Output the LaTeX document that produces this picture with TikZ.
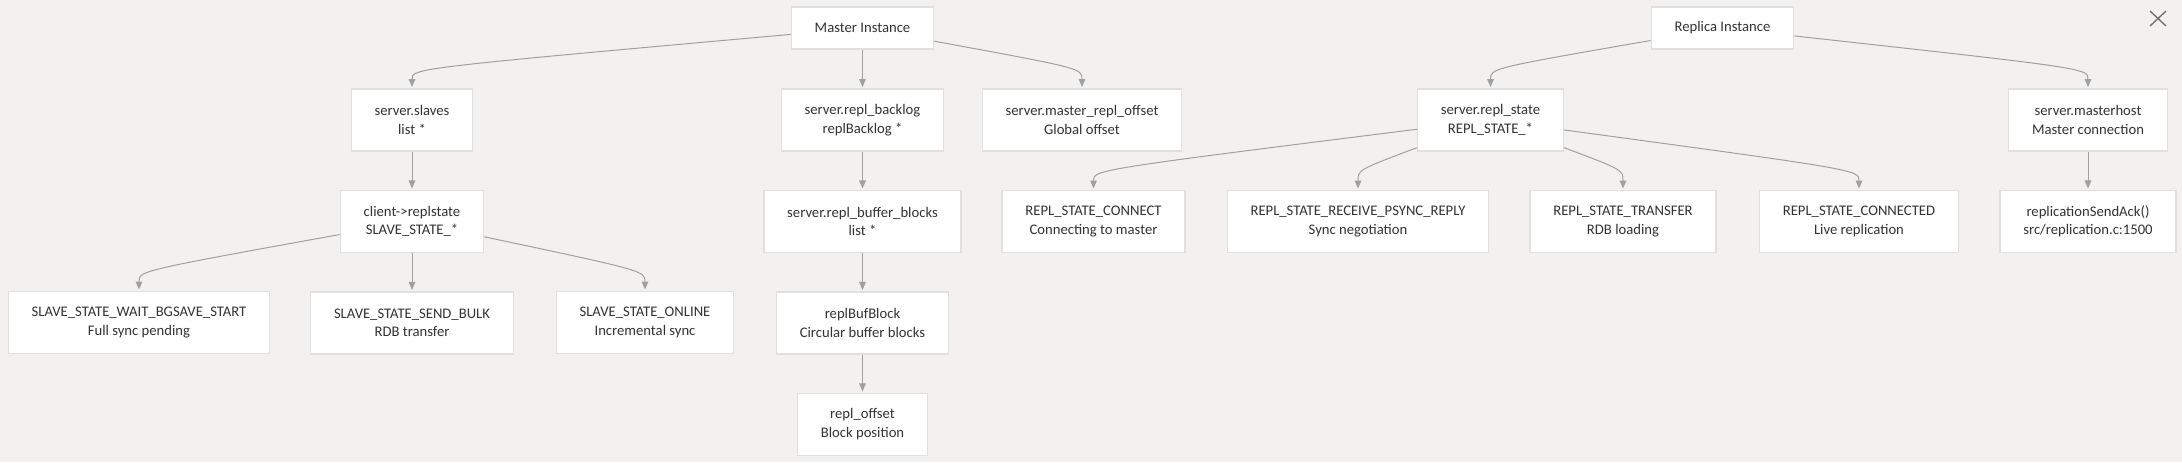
\documentclass[tikz,border=0pt]{standalone}
\usepackage{fontspec}
\setmainfont{Carlito}
\usetikzlibrary{arrows.meta,calc}

\definecolor{canvas}{RGB}{242,241,239}
\definecolor{boxline}{RGB}{224,224,224}
\definecolor{wire}{RGB}{160,160,160}
\definecolor{ink}{RGB}{51,51,51}
\definecolor{closegray}{RGB}{110,110,110}

\begin{document}
\begin{tikzpicture}[x=0.75pt,y=0.75pt,node distance=76.1pt,
    box/.style={draw=boxline,line width=1pt,fill=white,text=ink,align=center,
      font=\fontsize{11}{14}\selectfont,inner xsep=17.5pt,minimum height=46.5pt},
    top/.style={box,minimum height=31.5pt},
    link/.style={color=wire,line width=0.75pt,shorten >=1pt,
      -{Triangle[length=6pt,width=5pt]}},
    drop/.style={to path={.. controls ($(\tikztotarget.north)+(0,20)$) .. (\tikztotarget)}},
    closemark/.style={draw=closegray,line width=1pt}]

  \fill[canvas] (0,0) rectangle (2182,-462);

  % master side
  \node[top] (master)   at (862.5,-28)  {Master Instance};
  \node[box] (slaves)   at (412,-120)   {server.slaves\\list *};
  \node[box] (backlog)  at (862.5,-120) {server.repl\_backlog\\replBacklog *};
  \node[box] (mroffset) at (1082,-120)  {server.master\_repl\_offset\\Global offset};
  \node[box] (client)    [below of=slaves]  {client->replstate\\SLAVE\_STATE\_*};
  \node[box] (bufblocks) [below of=backlog] {server.repl\_buffer\_blocks\\list *};
  \node[box] (bgsave)   at (139,-322.5) {SLAVE\_STATE\_WAIT\_BGSAVE\_START\\Full sync pending};
  \node[box] (sendbulk) [below of=client] {SLAVE\_STATE\_SEND\_BULK\\RDB transfer};
  \node[box] (online)   at (645,-322.5) {SLAVE\_STATE\_ONLINE\\Incremental sync};
  \node[box] (bufblock) [below of=bufblocks] {replBufBlock\\Circular buffer blocks};
  \node[box] (offset)   [below of=bufblock]  {repl\_offset\\Block position};

  % replica side
  \node[top] (replica)    at (1722.5,-28)  {Replica Instance};
  \node[box] (replstate)  at (1490.5,-120) {server.repl\_state\\REPL\_STATE\_*};
  \node[box] (masterhost) at (2088,-120)   {server.masterhost\\Master connection};
  \node[box] (connect)    at (1093.5,-221.5) {REPL\_STATE\_CONNECT\\Connecting to master};
  \node[box] (psync)      at (1358,-221.5)   {REPL\_STATE\_RECEIVE\_PSYNC\_REPLY\\Sync negotiation};
  \node[box] (transfer)   at (1623,-221.5)   {REPL\_STATE\_TRANSFER\\RDB loading};
  \node[box] (connected)  at (1859,-221.5)   {REPL\_STATE\_CONNECTED\\Live replication};
  \node[box] (sendack)    [below of=masterhost] {replicationSendAck()\\src/replication.c:1500};

  \path[link] (master) edge[drop] (slaves) edge (backlog) edge[drop] (mroffset)
              (slaves) edge (client)
              (client) edge[drop] (bgsave) edge (sendbulk) edge[drop] (online)
              (backlog) edge (bufblocks)
              (bufblocks) edge (bufblock)
              (bufblock) edge (offset);

  \path[link] (replica) edge[drop] (replstate) edge[drop] (masterhost)
              (replstate) edge[drop] (connect) edge[drop] (psync)
                          edge[drop] (transfer) edge[drop] (connected)
              (masterhost) edge (sendack);

  % close button
  \draw[closemark] (2150,-11) -- (2166,-26) (2166,-11) -- (2150,-26);
\end{tikzpicture}
\end{document}
